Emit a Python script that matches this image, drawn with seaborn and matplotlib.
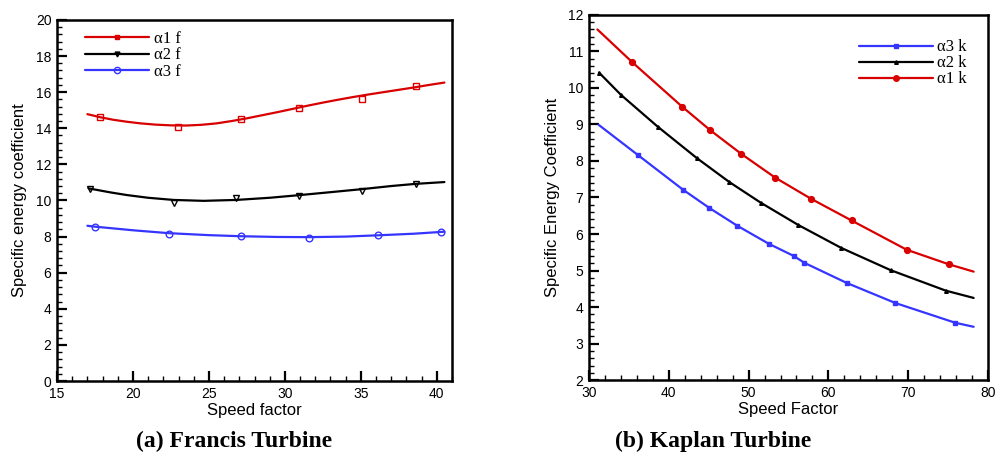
import matplotlib
matplotlib.use("Agg")
import matplotlib.pyplot as plt
from matplotlib.lines import Line2D
from matplotlib.ticker import MultipleLocator
import seaborn as sns

# ---------------- data: (a) Francis turbine ----------------
f1_x = [17.85, 22.98, 27.1, 30.95, 35.1, 38.6]
f1_y = [14.61, 14.06, 14.53, 15.12, 15.62, 16.36]
f2_x = [17.2, 22.67, 26.8, 30.95, 35.1, 38.6]
f2_y = [10.64, 9.88, 10.14, 10.27, 10.54, 10.91]
f3_x = [17.5, 22.35, 27.1, 31.6, 36.1, 40.25]
f3_y = [8.55, 8.16, 8.05, 7.94, 8.07, 8.25]

# fitted trend curves
f1c_x = [17.0, 17.85, 18.7, 19.6, 20.5, 21.5, 22.5, 23.5, 24.5, 25.5, 26.5, 27.5,
         28.5, 29.5, 30.5, 31.5, 32.5, 33.5, 34.5, 35.5, 36.5, 37.5, 38.5, 39.5, 40.5]
f1c_y = [14.78, 14.61, 14.47, 14.36, 14.27, 14.2, 14.16, 14.15, 14.19, 14.27, 14.4, 14.55,
         14.72, 14.89, 15.07, 15.25, 15.42, 15.58, 15.73, 15.87, 16.0, 16.13, 16.26, 16.4, 16.53]
f2c_x = [17.08, 18.5, 19.6, 21.0, 22.67, 24.65, 26.8, 29.0, 31.0, 33.0, 35.1, 37.0, 38.6, 40.5]
f2c_y = [10.67, 10.45, 10.3, 10.15, 10.03, 9.98, 10.03, 10.15, 10.3, 10.46, 10.63, 10.8, 10.92, 11.02]
f3c_x = [17.0, 17.5, 20.0, 22.35, 25.0, 27.1, 29.5, 31.6, 34.0, 36.1, 38.5, 40.5]
f3c_y = [8.6, 8.55, 8.35, 8.19, 8.08, 8.02, 7.98, 7.97, 8.0, 8.07, 8.16, 8.27]

# ---------------- data: (b) Kaplan turbine ----------------
k1_x = [35.43, 41.7, 45.2, 49.1, 53.35, 57.86, 62.9, 69.8, 75.1]
k1_y = [10.70, 9.48, 8.84, 8.19, 7.54, 6.96, 6.37, 5.57, 5.17]
k2_x = [31.25, 34.0, 38.6, 43.5, 47.6, 51.5, 56.2, 61.6, 67.8, 74.7]
k2_y = [10.42, 9.81, 8.94, 8.08, 7.42, 6.86, 6.25, 5.62, 5.01, 4.45]
k3_x = [36.2, 41.8, 45.1, 48.55, 52.55, 55.65, 57.0, 62.3, 68.4, 75.9]
k3_y = [8.15, 7.21, 6.71, 6.23, 5.73, 5.40, 5.21, 4.66, 4.11, 3.57]

k1c_x = [31.05] + k1_x + [78.2]
k1c_y = [11.6] + k1_y + [4.97]
k2c_x = k2_x + [78.2]
k2c_y = k2_y + [4.25]
k3c_x = [31.2] + k3_x + [78.2]
k3c_y = [8.99] + k3_y + [3.46]

labels_f = ["\u03b11 f", "\u03b12 f", "\u03b13 f"]
labels_k = ["\u03b13 k", "\u03b12 k", "\u03b11 k"]

RED = "#d80000"
BLACK = "#000000"
BLUE = "#3535ff"

sns.set_style("ticks")
plt.rcParams["font.family"] = ["Liberation Sans", "DejaVu Sans"]
plt.rcParams.update({"text.color": "black", "axes.labelcolor": "black",
                     "xtick.color": "black", "ytick.color": "black",
                     "xtick.labelcolor": "black", "ytick.labelcolor": "black"})

fig = plt.figure(figsize=(10, 4.63), dpi=100)
ax1 = fig.add_axes([0.057, 0.177, 0.395, 0.780])
ax2 = fig.add_axes([0.589, 0.179, 0.399, 0.789])


def curve(ax, xs, ys, color):
    sns.lineplot(x=xs, y=ys, ax=ax, color=color, lw=1.6, sort=False,
                 estimator=None, errorbar=None)


def marks(ax, xs, ys, color, marker, ms, filled):
    sns.lineplot(x=xs, y=ys, ax=ax, color=color, lw=0, marker=marker,
                 markersize=ms, markeredgewidth=1.0,
                 markerfacecolor=(color if filled else "none"),
                 markeredgecolor=color, estimator=None, errorbar=None, sort=False)


# (a)
curve(ax1, f1c_x, f1c_y, RED)
curve(ax1, f2c_x, f2c_y, BLACK)
curve(ax1, f3c_x, f3c_y, BLUE)
marks(ax1, f1_x, f1_y, RED, "s", 3.8, False)
marks(ax1, f2_x, f2_y, BLACK, "v", 4.3, False)
marks(ax1, f3_x, f3_y, BLUE, "o", 4.8, False)

# (b)
curve(ax2, k1c_x, k1c_y, RED)
curve(ax2, k2c_x, k2c_y, BLACK)
curve(ax2, k3c_x, k3c_y, BLUE)
marks(ax2, k1_x, k1_y, RED, "o", 4.2, True)
marks(ax2, k2_x, k2_y, BLACK, "^", 2.6, True)
marks(ax2, k3_x, k3_y, BLUE, "s", 3.0, True)

ax1.set_xlim(15, 41)
ax1.set_ylim(0, 20)
ax1.xaxis.set_major_locator(MultipleLocator(5))
ax1.xaxis.set_minor_locator(MultipleLocator(1))
ax1.yaxis.set_major_locator(MultipleLocator(2))
ax1.yaxis.set_minor_locator(MultipleLocator(0.4))

ax2.set_xlim(30, 80)
ax2.set_ylim(2, 12)
ax2.xaxis.set_major_locator(MultipleLocator(10))
ax2.xaxis.set_minor_locator(MultipleLocator(2))
ax2.yaxis.set_major_locator(MultipleLocator(1))
ax2.yaxis.set_minor_locator(MultipleLocator(0.2))

for ax in (ax1, ax2):
    for s in ax.spines.values():
        s.set_visible(True)
        s.set_linewidth(1.8)
        s.set_color("black")
    ax.tick_params(which="major", direction="in", length=7, width=1.6,
                   labelsize=10, top=False, right=False, pad=4, color="black",
                   labelcolor="black")
    ax.tick_params(which="minor", direction="in", length=3.5, width=1.0,
                   top=False, right=False, color="black")

ax1.set_xlabel("Speed factor", fontsize=12, labelpad=2, color="black")
ax1.set_ylabel("Specific energy coefficient", fontsize=12, labelpad=6, color="black")
ax2.set_xlabel("Speed Factor", fontsize=12, labelpad=2, color="black")
ax2.set_ylabel("Specific Energy Coefficient", fontsize=12, labelpad=6, color="black")

serif = ["Liberation Serif", "DejaVu Serif"]
h_f = [Line2D([], [], color=RED, lw=1.6, marker="s", ms=3.5, mfc=RED, mec=RED),
       Line2D([], [], color=BLACK, lw=1.6, marker="v", ms=3.5, mfc=BLACK, mec=BLACK),
       Line2D([], [], color=BLUE, lw=1.6, marker="o", ms=4.5, mfc="none", mec=BLUE)]
leg1 = ax1.legend(h_f, labels_f, loc="upper left", bbox_to_anchor=(0.077, 0.951),
                  bbox_transform=fig.transFigure, frameon=False, numpoints=1,
                  handlelength=3.8, handletextpad=0.35, labelspacing=0.02,
                  borderpad=0, prop={"family": serif, "size": 12})

h_k = [Line2D([], [], color=BLUE, lw=1.6, marker="s", ms=3.0, mfc=BLUE, mec=BLUE),
       Line2D([], [], color=BLACK, lw=1.6, marker="^", ms=2.6, mfc=BLACK, mec=BLACK),
       Line2D([], [], color=RED, lw=1.6, marker="o", ms=4.0, mfc=RED, mec=RED)]
leg2 = ax2.legend(h_k, labels_k, loc="upper left", bbox_to_anchor=(0.851, 0.933),
                  bbox_transform=fig.transFigure, frameon=False, numpoints=1,
                  handlelength=4.4, handletextpad=0.25, labelspacing=0.0,
                  borderpad=0, prop={"family": serif, "size": 12})
for leg in (leg1, leg2):
    for t in leg.get_texts():
        t.set_color("black")

fig.text(0.234, 0.047, "(a) Francis Turbine", ha="center", va="center",
         fontsize=17, fontweight="bold", family=serif, color="black")
fig.text(0.713, 0.047, "(b) Kaplan Turbine", ha="center", va="center",
         fontsize=17, fontweight="bold", family=serif, color="black")

fig.savefig("out.png", dpi=100)
